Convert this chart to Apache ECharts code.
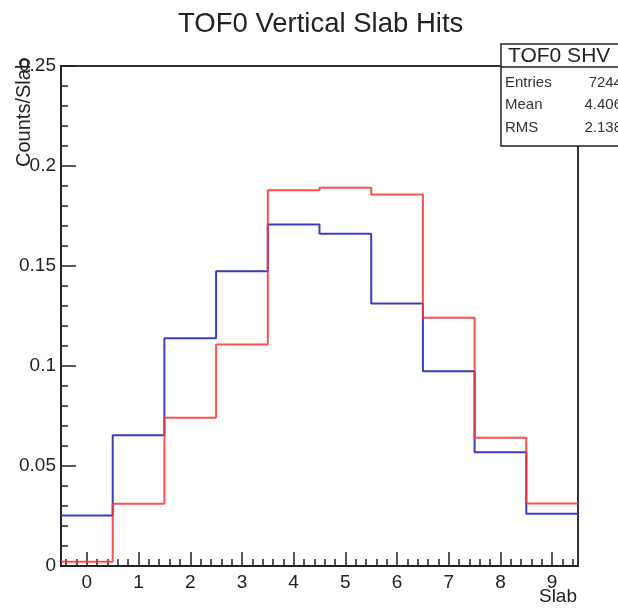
<!DOCTYPE html>
<html>
<head>
<meta charset="utf-8">
<script src="https://cdn.jsdelivr.net/npm/echarts@6/dist/echarts.min.js"></script>
<style>
html,body{margin:0;padding:0;background:#fff;}
#chart{width:618px;height:613px;}
</style>
</head>
<body>
<div id="chart"></div>
<script>
// ---- data ----
var slabs = [0, 1, 2, 3, 4, 5, 6, 7, 8, 9];
var shvCounts = [0.0253, 0.0654, 0.1139, 0.1474, 0.1708, 0.1661, 0.1313, 0.0974, 0.0569, 0.0261];
var otherCounts = [0.0021, 0.0311, 0.0741, 0.1108, 0.1879, 0.1891, 0.1858, 0.1241, 0.0641, 0.0313];
var yTicks = [0, 0.05, 0.1, 0.15, 0.2, 0.25];
var statsLabels = ['Entries', 'Mean', 'RMS'];
var statsValues = ['7244', '4.406', '2.138'];
var titleText = 'TOF0 Vertical Slab Hits';
var statsTitle = 'TOF0 SHV';

// histogram steps built from bin edges
function steps(vals) {
  var pts = [];
  for (var i = 0; i < slabs.length; i++) pts.push([slabs[i] - 0.5, vals[i]]);
  pts.push([slabs[slabs.length - 1] + 0.5, vals[vals.length - 1]]);
  return pts;
}
var minorX = [];
for (var k = -2; k <= 47; k++) {
  if (k % 5 !== 0) minorX.push(+(k * 0.2).toFixed(2));
}

var FONT = 'Liberation Sans';
var chart = echarts.init(document.getElementById('chart'), null, {renderer: 'canvas'});
var xMin = slabs[0] - 0.5, xMax = slabs[slabs.length - 1] + 0.5;
chart.setOption({
  animation: false,
  backgroundColor: '#fff',
  title: {
    text: titleText, left: 173, top: 5,
    textStyle: {fontFamily: FONT, fontSize: 27.5, fontWeight: 'normal', color: '#222'}
  },
  grid: {left: 61, right: 40, top: 66, bottom: 47, show: true, borderColor: '#333', borderWidth: 2, containLabel: false},
  xAxis: [{
    type: 'value', min: xMin, max: xMax,
    axisLine: {show: true, onZero: false, lineStyle: {color: '#222', width: 2}},
    axisTick: {show: true, inside: true, length: 14, customValues: slabs, lineStyle: {color: '#222', width: 1.5}},
    axisLabel: {show: true, customValues: slabs, margin: 7, fontFamily: FONT, fontSize: 19, color: '#222'},
    splitLine: {show: false}
  }, {
    type: 'value', min: xMin, max: xMax, position: 'bottom', gridIndex: 0,
    axisLine: {show: false, onZero: false},
    axisTick: {show: true, inside: true, length: 7, customValues: minorX, lineStyle: {color: '#222', width: 1.5}},
    axisLabel: {show: false},
    splitLine: {show: false}
  }],
  yAxis: {
    type: 'value', min: yTicks[0], max: yTicks[yTicks.length - 1], interval: 0.05, position: 'left',
    axisLine: {show: true, onZero: false, lineStyle: {color: '#222', width: 2}},
    axisTick: {show: true, inside: true, length: 15, lineStyle: {color: '#222', width: 1.5}},
    minorTick: {show: true, splitNumber: 5, length: 7, lineStyle: {color: '#222', width: 1.5}},
    axisLabel: {margin: 5, fontFamily: FONT, fontSize: 19, color: '#222'},
    splitLine: {show: false}
  },
  series: [{
    type: 'line', step: 'end', data: steps(shvCounts), showSymbol: false, xAxisIndex: 0,
    lineStyle: {color: '#3c3cc0', width: 2}, z: 3
  }, {
    type: 'line', step: 'end', data: steps(otherCounts), showSymbol: false, xAxisIndex: 0,
    lineStyle: {color: '#ff3030', width: 2, opacity: 0.85}, z: 4
  }],
  graphic: [
    {type: 'text', x: 24, y: 58, rotation: Math.PI / 2,
     style: {text: 'Counts/Slab', fontFamily: FONT, fontSize: 20, fill: '#222', align: 'right', verticalAlign: 'middle'}, z: 10},
    {type: 'text', x: 577, y: 597,
     style: {text: 'Slab', fontFamily: FONT, fontSize: 19, fill: '#222', align: 'right', verticalAlign: 'middle'}, z: 10},
    {type: 'rect', shape: {x: 501, y: 44, width: 140, height: 102},
     style: {fill: '#fff', stroke: '#222', lineWidth: 1.5}, z: 20},
    {type: 'line', shape: {x1: 501, y1: 67, x2: 640, y2: 67}, style: {stroke: '#222', lineWidth: 1.5}, z: 21},
    {type: 'text', x: 508, y: 56,
     style: {text: statsTitle, fontFamily: FONT, fontSize: 21, fill: '#222', verticalAlign: 'middle'}, z: 21},
    {type: 'text', x: 505, y: 83, style: {text: statsLabels[0], fontFamily: FONT, fontSize: 15, fill: '#333', verticalAlign: 'middle'}, z: 21},
    {type: 'text', x: 505, y: 105, style: {text: statsLabels[1], fontFamily: FONT, fontSize: 15, fill: '#333', verticalAlign: 'middle'}, z: 21},
    {type: 'text', x: 505, y: 128, style: {text: statsLabels[2], fontFamily: FONT, fontSize: 15, fill: '#333', verticalAlign: 'middle'}, z: 21},
    {type: 'text', x: 622, y: 83, style: {text: statsValues[0], fontFamily: FONT, fontSize: 15, fill: '#333', align: 'right', verticalAlign: 'middle'}, z: 21},
    {type: 'text', x: 622, y: 105, style: {text: statsValues[1], fontFamily: FONT, fontSize: 15, fill: '#333', align: 'right', verticalAlign: 'middle'}, z: 21},
    {type: 'text', x: 622, y: 128, style: {text: statsValues[2], fontFamily: FONT, fontSize: 15, fill: '#333', align: 'right', verticalAlign: 'middle'}, z: 21}
  ]
});
</script>
</body>
</html>
